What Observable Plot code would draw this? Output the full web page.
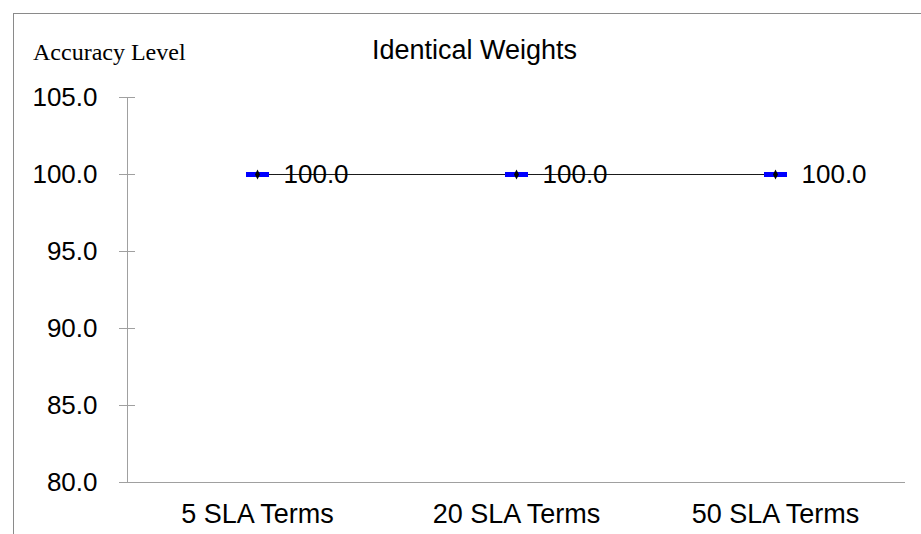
<!DOCTYPE html>
<html>
<head>
<meta charset="utf-8">
<script src="https://cdn.jsdelivr.net/npm/d3@7"></script>
<script src="https://cdn.jsdelivr.net/npm/@observablehq/plot@0.6"></script>
<style>
  html, body { margin: 0; padding: 0; background: #fff; }
  #wrap { position: relative; width: 921px; height: 534px; overflow: hidden; }
  #chart { position: absolute; left: 0; top: 0; }
  #border { position: absolute; left: 13px; top: 13px; width: 920px; height: 530px;
            border-top: 1px solid #8a8a8a; border-left: 1px solid #8a8a8a; pointer-events: none; }
  .title { position: absolute; font-family: "Liberation Sans", Arial, sans-serif; font-size: 27px;
           line-height: 27px; color: #000; white-space: nowrap; }
  .ylabel { position: absolute; font-family: "Liberation Serif", "Times New Roman", serif; font-size: 24px;
            line-height: 24px; color: #000; white-space: nowrap; }
</style>
</head>
<body>
<div id="wrap">
  <div id="chart"></div>
  <div id="border"></div>
  <div class="ylabel" style="left:33px; top:40px;">Accuracy Level</div>
  <div class="title" style="left:474.5px; top:37px; transform:translateX(-50%);">Identical Weights</div>
</div>
<script>
// Accuracy for each number of SLA terms (identical weights)
const terms = ["5 SLA Terms", "20 SLA Terms", "50 SLA Terms"];
const accuracy = [100.0, 100.0, 100.0];
const yTicks = [80, 85, 90, 95, 100, 105];

const data = terms.map((term, i) => ({term, accuracy: accuracy[i]}));

// Flat blue dash marker and a small black diamond drawn on top of it
const dashSymbol = {draw(ctx) { ctx.rect(-11.5, -2.5, 23, 5); }};
const diamondSymbol = {draw(ctx) {
  ctx.moveTo(0, -5); ctx.lineTo(2.5, 0); ctx.lineTo(0, 5); ctx.lineTo(-2.5, 0); ctx.closePath();
}};

const axisGray = "#a0a0a0";

const chart = Plot.plot({
  width: 921,
  height: 534,
  marginLeft: 127,
  marginRight: 16,
  marginTop: 97,
  marginBottom: 52,
  style: {fontFamily: "'Liberation Sans', Arial, sans-serif", fontSize: "26px", color: "#000", background: "transparent"},
  x: {type: "point", domain: terms, padding: 0.5, label: null},
  y: {domain: [yTicks[0], yTicks[yTicks.length - 1]], label: null},
  marks: [
    Plot.frame({anchor: "left", stroke: axisGray}),
    Plot.ruleY([yTicks[0]], {stroke: axisGray}),
    Plot.axisY({ticks: yTicks, tickSize: 16, dx: 8, tickPadding: 22, stroke: axisGray, fill: "#000",
                tickFormat: d => d.toFixed(1), label: null}),
    Plot.axisX({tickSize: 0, tickPadding: 21, fill: "#000", fontSize: 27, label: null}),
    Plot.line(data, {x: "term", y: "accuracy", stroke: "#000", strokeWidth: 1, strokeDasharray: "1,1"}),
    Plot.dot(data, {x: "term", y: "accuracy", symbol: dashSymbol, fill: "#0000ff", stroke: null}),
    Plot.dot(data, {x: "term", y: "accuracy", symbol: diamondSymbol, fill: "#000", stroke: null}),
    Plot.text(data, {x: "term", y: "accuracy", text: d => d.accuracy.toFixed(1), textAnchor: "start",
                     dx: 26, fill: "#000", fontSize: 26})
  ]
});

document.getElementById("chart").appendChild(chart);
</script>
</body>
</html>
